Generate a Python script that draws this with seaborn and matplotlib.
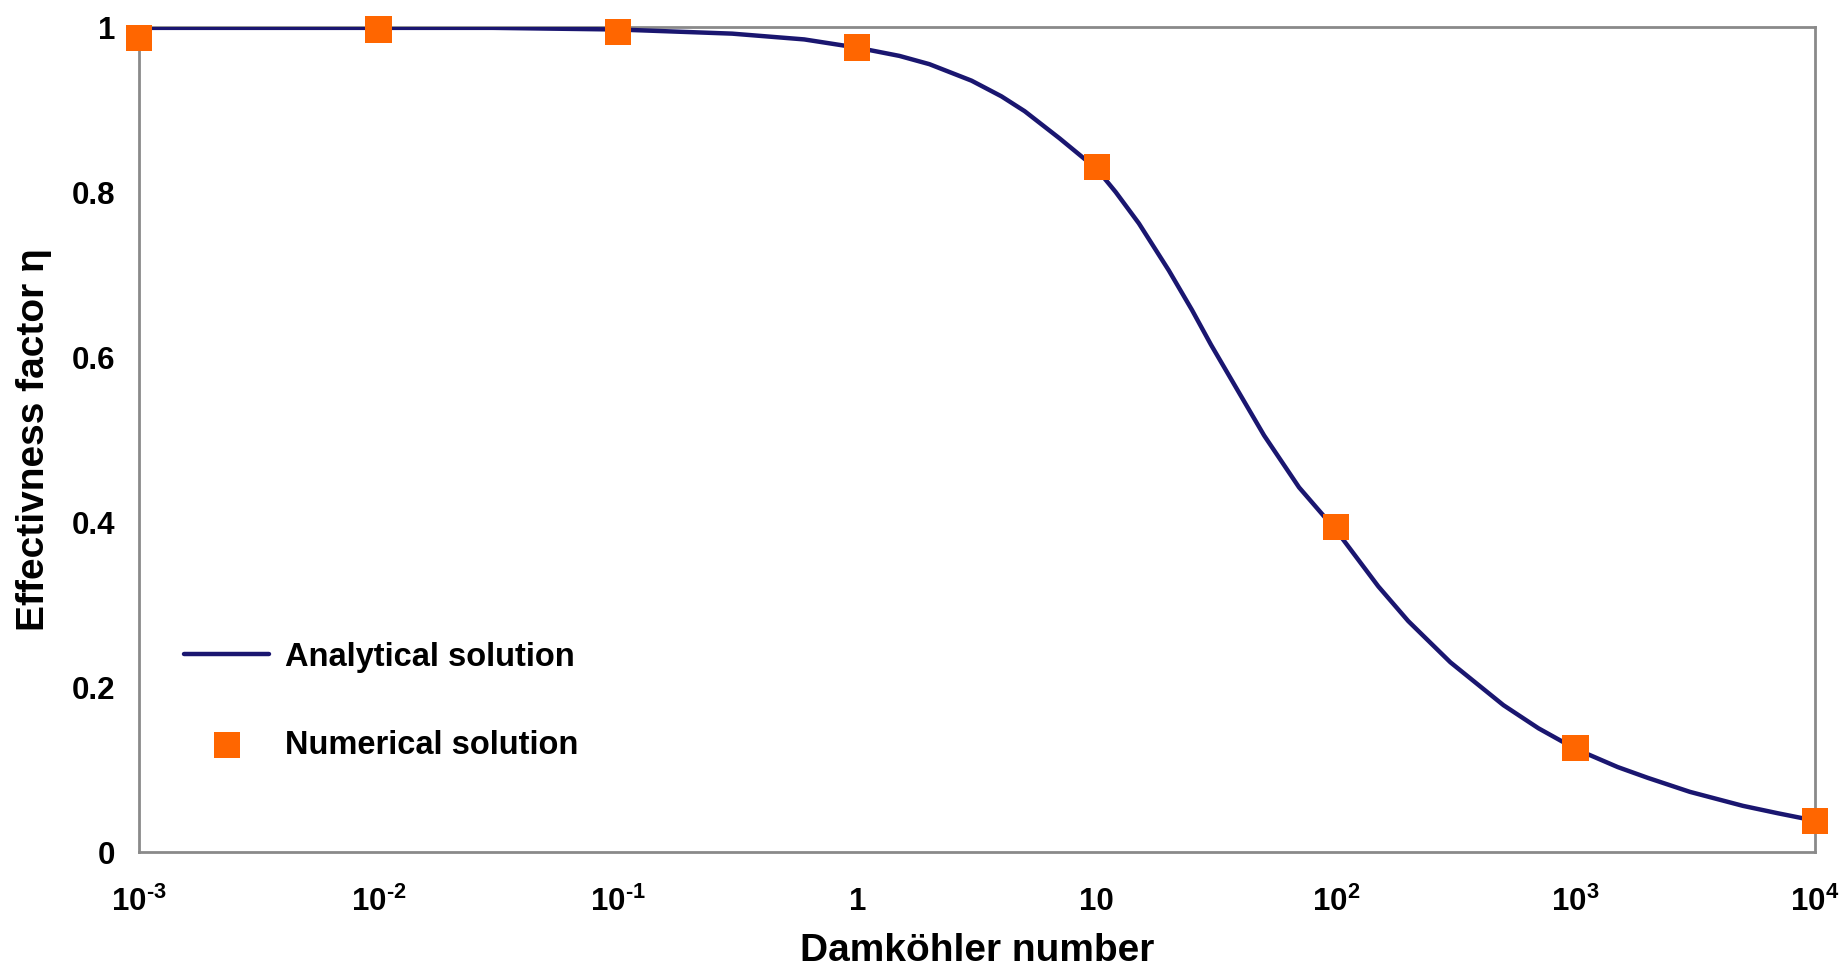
import matplotlib
matplotlib.use("Agg")
import matplotlib.pyplot as plt
from matplotlib.ticker import FixedLocator, FixedFormatter, NullLocator
import pandas as pd
import seaborn as sns

# Analytical effectiveness-factor curve (Damköhler number vs. eta)
curve_da = [1e-3, 1e-2, 3e-2, 1e-1, 0.3, 0.6, 1, 1.5, 2, 3, 4, 5, 7, 10, 12,
            15, 20, 25, 30, 40, 50, 70, 100, 150, 200, 300, 500, 700, 1000,
            1500, 2000, 3000, 5000, 7000, 10000]
curve_eta = [0.999, 0.999, 0.999, 0.997, 0.992, 0.985, 0.975, 0.965, 0.955,
             0.935, 0.916, 0.898, 0.865, 0.828, 0.800, 0.762, 0.705, 0.657,
             0.615, 0.553, 0.505, 0.442, 0.390, 0.322, 0.280, 0.230, 0.178,
             0.150, 0.125, 0.103, 0.090, 0.073, 0.056, 0.047, 0.038]

# Numerical solution points
num_da = [1e-3, 1e-2, 1e-1, 1, 10, 100, 1000, 10000]
num_eta = [0.987, 0.997, 0.994, 0.975, 0.830, 0.394, 0.126, 0.038]

x_ticks = [1e-3, 1e-2, 1e-1, 1, 10, 100, 1000, 10000]
x_tick_labels = [r"$\mathbf{10^{\text{-}3}}$", r"$\mathbf{10^{\text{-}2}}$",
                 r"$\mathbf{10^{\text{-}1}}$", "1", "10", r"$\mathbf{10^{2}}$",
                 r"$\mathbf{10^{3}}$", r"$\mathbf{10^{4}}$"]
y_ticks = [0, 0.2, 0.4, 0.6, 0.8, 1.0]
y_tick_labels = ["0", "0.2", "0.4", "0.6", "0.8", "1"]

sns.set_theme(style="white")
plt.rcParams["font.family"] = ["Liberation Sans", "DejaVu Sans"]
plt.rcParams["font.weight"] = "bold"
plt.rcParams["text.color"] = "black"
plt.rcParams["axes.labelcolor"] = "black"
plt.rcParams["xtick.color"] = "black"
plt.rcParams["ytick.color"] = "black"
plt.rcParams["mathtext.fontset"] = "custom"
plt.rcParams["mathtext.rm"] = "Liberation Sans:bold"
plt.rcParams["mathtext.bf"] = "Liberation Sans:bold"
plt.rcParams["mathtext.it"] = "Liberation Sans:bold"

curve_df = pd.DataFrame({"Da": curve_da, "eta": curve_eta})
num_df = pd.DataFrame({"Da": num_da, "eta": num_eta})

fig = plt.figure(figsize=(18.49, 9.76), dpi=100)
ax = fig.add_axes([0.0752, 0.127, 0.9064, 0.8453])

sns.lineplot(data=curve_df, x="Da", y="eta", ax=ax, color="#1a1670",
             linewidth=3.2, label="Analytical solution", zorder=3)
sns.scatterplot(data=num_df, x="Da", y="eta", ax=ax, marker="s", s=360,
                color="#ff6600", edgecolor="none", label="Numerical solution",
                zorder=4, clip_on=False)

ax.set_xscale("log")
ax.set_xlim(1e-3, 1e4)
ax.set_ylim(0, 1)

ax.xaxis.set_major_locator(FixedLocator(x_ticks))
ax.xaxis.set_major_formatter(FixedFormatter(x_tick_labels))
ax.xaxis.set_minor_locator(NullLocator())
ax.yaxis.set_major_locator(FixedLocator(y_ticks))
ax.yaxis.set_major_formatter(FixedFormatter(y_tick_labels))

ax.tick_params(axis="both", which="major", labelsize=22.5, length=0)
ax.tick_params(axis="x", pad=25)
ax.tick_params(axis="y", pad=17)
for lab in ax.get_xticklabels() + ax.get_yticklabels():
    lab.set_fontweight("bold")

for side in ["left", "bottom", "top", "right"]:
    ax.spines[side].set_visible(True)
    ax.spines[side].set_color("#8a8a8a")
    ax.spines[side].set_linewidth(2.0)

ax.set_xlabel("Damköhler number", fontsize=28, fontweight="bold", labelpad=11)
ax.set_ylabel("Effectivness factor η", fontsize=28, fontweight="bold", labelpad=14)

leg = ax.legend(loc="center left", bbox_to_anchor=(0.027, 0.183),
                frameon=False, fontsize=23.5, handlelength=2.6,
                handletextpad=0.5, labelspacing=1.75, borderaxespad=0,
                borderpad=0, markerscale=1.0)
for t in leg.get_texts():
    t.set_fontweight("bold")
    t.set_color("black")

fig.savefig("out.png", dpi=100, facecolor="white")
